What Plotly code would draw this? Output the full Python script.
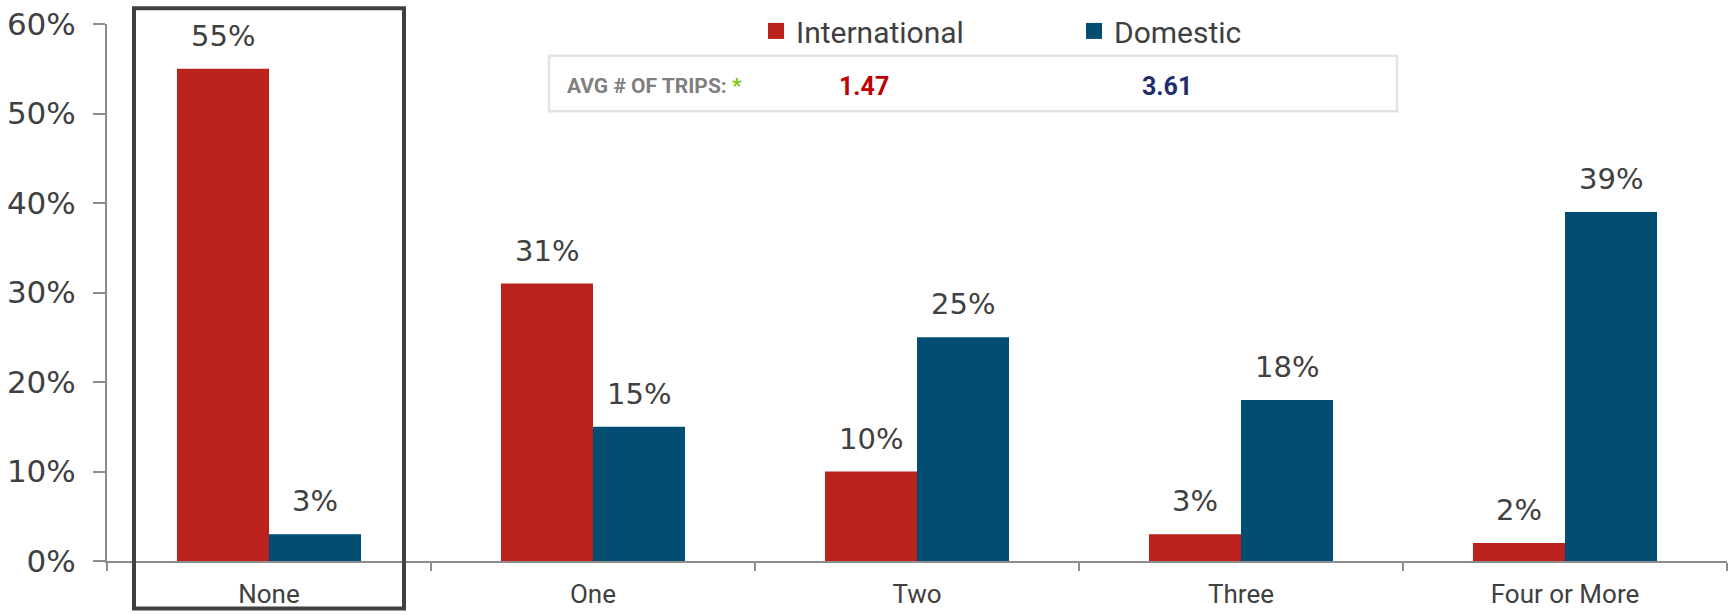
import plotly.graph_objects as go

categories = ["None", "One", "Two", "Three", "Four or More"]
international = [55, 31, 10, 3, 2]
domestic = [3, 15, 25, 18, 39]
avg_international = "1.47"
avg_domestic = "3.61"
y_ticks = [0, 10, 20, 30, 40, 50, 60]

RED = "#BA221B"
BLUE = "#024E72"
TXT = "#404040"
AX = "#8C8C8C"
BW = 0.284

fig = go.Figure()
fig.add_trace(go.Bar(name="International", x=categories, y=international, showlegend=False,
                     marker=dict(color=RED, line=dict(width=0)), width=BW, offset=-BW))
fig.add_trace(go.Bar(name="Domestic", x=categories, y=domestic, showlegend=False,
                     marker=dict(color=BLUE, line=dict(width=0)), width=BW, offset=0))
# legend entries with larger square swatches
for name, col in (("International", RED), ("Domestic", BLUE)):
    fig.add_trace(go.Scatter(name=name, x=[None], y=[None], mode="markers",
                             marker=dict(symbol="square", size=17, color=col)))

annotations = []
for i, (a, b) in enumerate(zip(international, domestic)):
    for val, dx in ((a, -BW / 2), (b, BW / 2)):
        annotations.append(dict(x=i + dx, y=val, xref="x", yref="y", text=f"{val}%",
                                showarrow=False, yanchor="bottom", yshift=14,
                                font=dict(family="DejaVu Sans", size=29, color=TXT)))

BOXY = (561 - 82) / 542
annotations += [
    dict(xref="paper", yref="paper", x=(565 - 107) / 1620, y=BOXY, xanchor="left",
         yanchor="middle", showarrow=False,
         text="<b>AVG # OF TRIPS: </b><b><span style='color:#7AC70C'>*</span></b>",
         font=dict(family="Roboto", size=21, color="#7F7F7F")),
    dict(xref="paper", yref="paper", x=(837 - 107) / 1620, y=BOXY, xanchor="left",
         yanchor="middle", showarrow=False, text=f"<b>{avg_international}</b>",
         font=dict(family="Roboto", size=25, color="#C00000")),
    dict(xref="paper", yref="paper", x=(1140 - 107) / 1620, y=BOXY, xanchor="left",
         yanchor="middle", showarrow=False, text=f"<b>{avg_domestic}</b>",
         font=dict(family="Roboto", size=25, color="#1F2D6E")),
]

shapes = [
    dict(type="rect", xref="paper", yref="paper",
         x0=(549 - 107) / 1620, x1=(1397 - 107) / 1620,
         y0=(561 - 107) / 542, y1=(561 - 51) / 542,
         line=dict(color="#E3E3E3", width=2.5), fillcolor="rgba(0,0,0,0)"),
    dict(type="rect", xref="paper", yref="paper",
         x0=(134 - 107) / 1620, x1=(404 - 107) / 1620,
         y0=(561 - 609) / 542, y1=(561 - 3) / 542,
         line=dict(color="#404040", width=4), fillcolor="rgba(0,0,0,0)"),
]

fig.update_layout(
    width=1732, height=615,
    margin=dict(l=107, r=5, t=19, b=54),
    paper_bgcolor="white", plot_bgcolor="white",
    barmode="group",
    showlegend=True,
    legend=dict(orientation="h", x=(756 - 107) / 1620, y=(561 - 26) / 542,
                xanchor="left", yanchor="middle", entrywidth=273, entrywidthmode="pixels",
                font=dict(family="Roboto", size=30, color=TXT), itemwidth=30,
                bgcolor="rgba(0,0,0,0)", tracegroupgap=0),
    annotations=annotations,
    shapes=shapes,
    xaxis=dict(showline=True, linecolor=AX, linewidth=2, ticks="outside", tickson="boundaries",
               ticklen=8, tickcolor=AX, tickwidth=2, ticklabelstandoff=9, automargin=False,
               tickfont=dict(family="Roboto", size=26, color=TXT), showgrid=False),
    yaxis=dict(range=[0, 60], tickvals=y_ticks, ticktext=[f"{v}%" for v in y_ticks],
               showline=True, linecolor=AX, linewidth=2, ticks="outside", ticklen=12,
               tickcolor=AX, tickwidth=2, showgrid=False, zeroline=False,
               ticklabelstandoff=11, automargin=False,
               tickfont=dict(family="DejaVu Sans", size=31, color=TXT)),
)

fig.write_html("out.html", config={"displayModeBar": False},
               post_script="document.body.style.margin='0px';")
